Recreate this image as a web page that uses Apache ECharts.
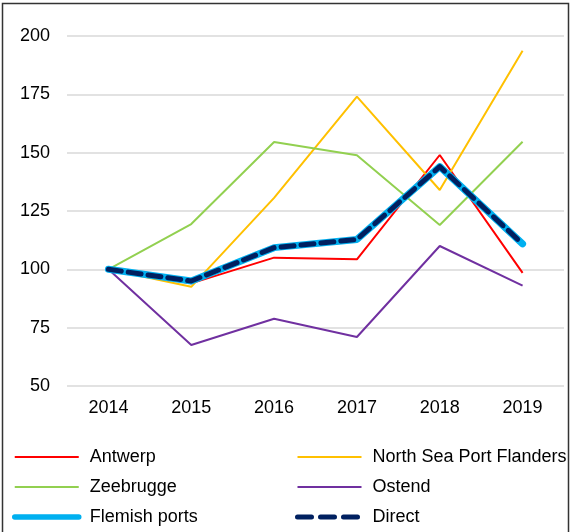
<!DOCTYPE html>
<html>
<head>
<meta charset="utf-8">
<script src="https://cdn.jsdelivr.net/npm/echarts@6/dist/echarts.min.js"></script>
<style>
  html, body { margin: 0; padding: 0; background: #fff; }
  #chart { width: 571px; height: 532px; }
</style>
</head>
<body>
<div id="chart"></div>
<script>
// 年份和各港口指数 (2014 = 100)
const years = ['2014', '2015', '2016', '2017', '2018', '2019']
const antwerp = [100, 94, 105, 104.3, 149, 98.5]
const northSea = [100, 92.5, 130.6, 174, 134, 193.7]
const zeebrugge = [100, 119.4, 154.6, 148.9, 119, 154.7]
const ostend = [100, 67.6, 78.8, 71, 110, 93]
const flemish = [100, 95, 109.3, 112.8, 144, 110.9]
const direct = [100, 95, 109.3, 112.8, 144, 110.9]

const chart = echarts.init(document.getElementById('chart'))

const font = 'Liberation Sans, Arial, sans-serif'

const mkLine = (name, data, color, width, extra) => Object.assign({
  name,
  type: 'line',
  data,
  symbol: 'none',
  lineStyle: { color, width },
  itemStyle: { color }
}, extra || {})

const legendBase = {
  orient: 'vertical',
  itemWidth: 64,
  itemHeight: 14,
  itemGap: 10,
  itemStyle: { opacity: 0 },
  textStyle: { fontFamily: font, fontSize: 18, lineHeight: 20, color: '#000', padding: [0, 0, 0, 6] },
  padding: 0
}

chart.setOption({
  animation: false,
  grid: { left: 67, right: 7, top: 36, bottom: 146 },
  graphic: [{
    type: 'rect',
    shape: { x: 2.5, y: 3.5, width: 566, height: 560 },
    style: { fill: 'none', stroke: '#333', lineWidth: 1.5 },
    silent: true
  }],
  legend: [
    Object.assign({}, legendBase, {
      left: 12, top: 447,
      data: ['Antwerp', 'Zeebrugge', {
        name: 'Flemish ports',
        lineStyle: { width: 5.5, cap: 'round' }
      }]
    }),
    Object.assign({}, legendBase, {
      left: 295, top: 447,
      data: ['North Sea Port Flanders', 'Ostend', {
        name: 'Direct',
        lineStyle: { width: 5, type: [14, 9], cap: 'round' }
      }]
    })
  ],
  xAxis: {
    type: 'category',
    data: years,
    boundaryGap: true,
    axisLine: { show: false },
    axisTick: { show: false },
    axisLabel: { fontFamily: font, fontSize: 18, color: '#000', margin: 13 }
  },
  yAxis: {
    type: 'value',
    min: 50,
    max: 200,
    interval: 25,
    axisLine: { show: false },
    axisTick: { show: false },
    axisLabel: { fontFamily: font, fontSize: 18, color: '#000', margin: 17 },
    splitLine: { lineStyle: { color: '#d9d9d9', width: 1.5 } }
  },
  series: [
    mkLine('Antwerp', antwerp, '#ff0000', 2),
    mkLine('North Sea Port Flanders', northSea, '#ffc000', 2),
    mkLine('Zeebrugge', zeebrugge, '#92d050', 2),
    mkLine('Ostend', ostend, '#7030a0', 2),
    mkLine('Flemish ports', flemish, '#00b0f0', 7, {
      lineStyle: { color: '#00b0f0', width: 7, cap: 'round', join: 'round' }
    }),
    mkLine('Direct', direct, '#002060', 5, {
      lineStyle: { color: '#002060', width: 5, type: [13, 7], cap: 'round', join: 'round' }
    })
  ]
})
</script>
</body>
</html>
